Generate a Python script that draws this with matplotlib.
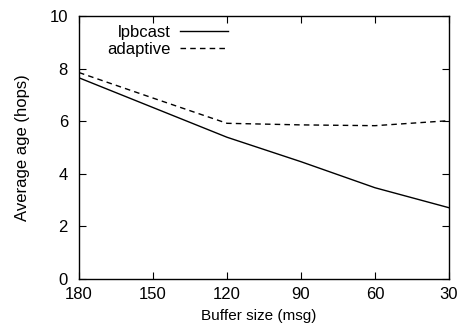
import matplotlib
matplotlib.use("Agg")
import matplotlib.pyplot as plt

# buffer size (msg) and average age (hops)
buffer_size = [180, 150, 120, 90, 60, 30]
lpbcast = [7.65, 6.52, 5.39, 4.46, 3.47, 2.71]
adaptive = [7.85, 6.88, 5.92, 5.86, 5.83, 6.02]

plt.rcParams.update({
    "font.family": ["Liberation Sans", "DejaVu Sans"],
    "font.size": 12,
    "xtick.direction": "in", "ytick.direction": "in",
    "xtick.top": True, "ytick.right": True,
    "xtick.major.size": 5, "ytick.major.size": 5,
    "axes.linewidth": 1.0,
})

fig = plt.figure(figsize=(4.63, 3.32), dpi=100)
ax = fig.add_axes([0.1706, 0.1596, 0.7992, 0.7922])

ax.plot(buffer_size, lpbcast, color="black", lw=1.0, label="lpbcast")
ax.plot(buffer_size, adaptive, color="black", lw=1.0, ls=(0, (4, 3)),
        label="adaptive")

ax.set_xlim(180, 30)
ax.set_ylim(0, 10)
ax.set_xticks([180, 150, 120, 90, 60, 30])
ax.set_yticks([0, 2, 4, 6, 8, 10])
ax.tick_params(axis="x", pad=6)
ax.tick_params(axis="y", pad=8)
ax.set_xlabel("Buffer size (msg)", fontsize=11)
ax.set_ylabel("Average age (hops)")
ax.xaxis.set_label_coords(0.486, -0.113)
ax.yaxis.set_label_coords(-0.132, 0.5)

ax.legend(loc="center right", bbox_to_anchor=(0.403, 0.905), frameon=False,
          markerfirst=False, handlelength=2.9, handletextpad=0.55,
          labelspacing=0.1, borderaxespad=0, borderpad=0)

fig.savefig("out.png", dpi=100)
